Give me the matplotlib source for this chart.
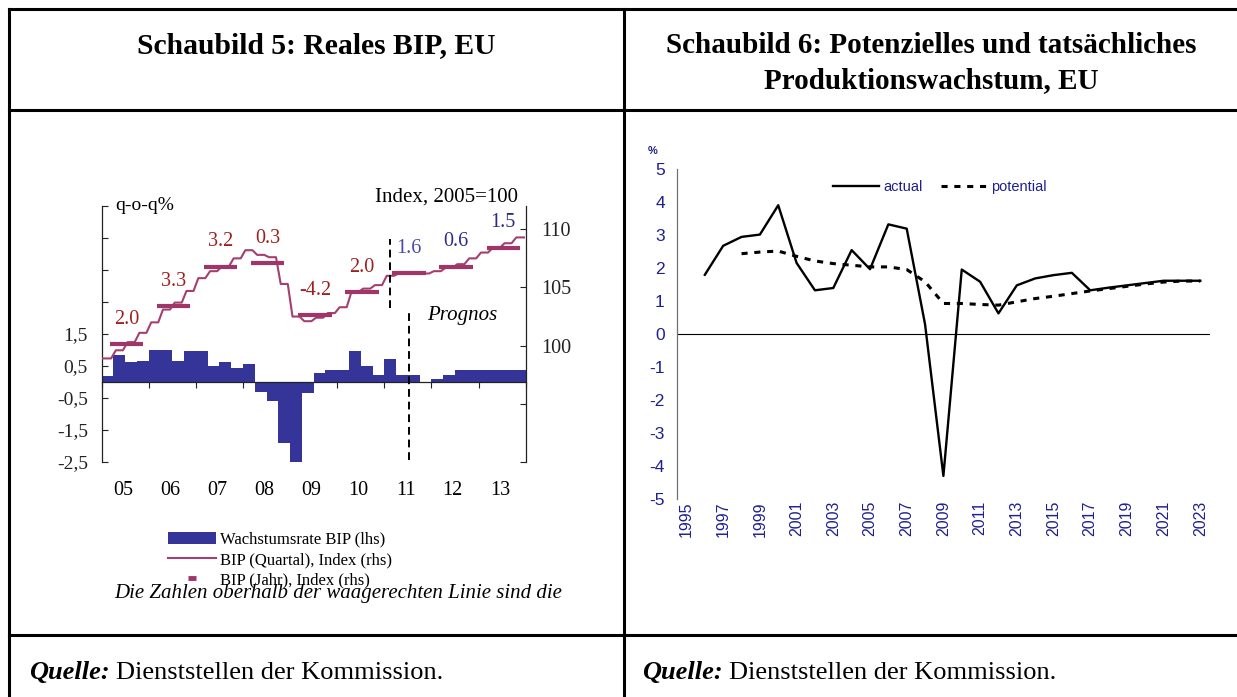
import matplotlib
matplotlib.use('Agg')
import matplotlib.pyplot as plt
import numpy as np
from matplotlib.lines import Line2D
from matplotlib.patches import Patch
from matplotlib.transforms import blended_transform_factory

W, H, DPI = 1237, 697, 100
SERIF = 'Liberation Serif'
SANS = 'Liberation Sans'

# ---------------- data: Schaubild 5 ----------------
year_labels_5 = ['05', '06', '07', '08', '09', '10', '11', '12', '13']
gdp_qoq = [0.2, 0.85, 0.64, 0.67, 1.0, 1.0, 0.67, 0.98, 0.98, 0.51, 0.64, 0.45,
           0.57, -0.3, -0.58, -1.9, -2.58, -0.35, 0.29, 0.39, 0.39, 0.98, 0.51, 0.23,
           0.73, 0.23, 0.23, 0.0, 0.1, 0.23, 0.39, 0.39, 0.39, 0.39, 0.39, 0.39]
gdp_index_q = [98.9, 99.6, 100.3, 101.1, 102.0, 103.1, 103.7, 104.7,
               105.8, 106.4, 106.8, 107.5, 108.2, 107.8, 107.6, 105.3,
               102.5, 102.1, 102.4, 102.8, 103.3, 104.6, 104.9, 105.2,
               106.0, 106.2, 106.2, 106.2, 106.4, 106.7, 107.0, 107.5,
               108.0, 108.4, 108.8, 109.3]
gdp_index_y = [100.1, 103.4, 106.8, 107.1, 102.6, 104.6, 106.2, 106.8, 108.4]
growth_labels = ['2.0', '3.3', '3.2', '0.3', '-4.2', '2.0', '1.6', '0.6', '1.5']
label_colors = ['#9E1F1F'] * 6 + ['#4A4AA8', '#2B2B8C', '#2B2B8C']
forecast_q_index = 24.45   # quarter position of upper dashed separator
forecast_q_bars = 26.05    # quarter position of lower dashed separator

# ---------------- data: Schaubild 6 ----------------
years_6 = list(range(1995, 2024))
actual_years = list(range(1996, 2024))
actual = [1.8, 2.68, 2.95, 3.02, 3.91, 2.16, 1.33, 1.40, 2.55, 1.97, 3.33, 3.20, 0.3,
          -4.3, 1.96, 1.59, 0.63, 1.48, 1.69, 1.79, 1.86, 1.33, 1.41, 1.48, 1.55,
          1.62, 1.62, 1.62]
potential_years = list(range(1998, 2024))
potential = [2.44, 2.49, 2.52, 2.36, 2.22, 2.14, 2.09, 2.04, 2.04, 1.96, 1.59, 0.93,
             0.93, 0.90, 0.88, 0.98, 1.08, 1.15, 1.23, 1.31, 1.38, 1.45, 1.52, 1.58,
             1.61, 1.61]

BAR_BLUE = '#353599'
MAROON = '#A3406F'
NAVY = '#1F1F8F'

fig = plt.figure(figsize=(W / DPI, H / DPI), dpi=DPI)
fig.patch.set_facecolor('white')


def fx(px):
    return px / W


def fy(py):
    return 1 - py / H


# ---------------- table frame ----------------
for (x0, y0, x1, y1) in [(9, 9, W + 5, 9), (9, 109.5, W + 5, 109.5), (9, 634.5, W + 5, 634.5),
                         (9, 9, 9, H + 5), (624, 9, 624, H + 5)]:
    fig.add_artist(Line2D([fx(x0), fx(x1)], [fy(y0), fy(y1)], transform=fig.transFigure,
                          color='black', lw=2.2, solid_capstyle='projecting'))

fig.text(fx(316.5), fy(53), 'Schaubild 5: Reales BIP, EU', ha='center', va='baseline',
         fontsize=21.3, fontweight='bold', family=SERIF)
fig.text(fx(931.7), fy(53), 'Schaubild 6: Potenzielles und tatsächliches', ha='center',
         va='baseline', fontsize=21, fontweight='bold', family=SERIF)
fig.text(fx(931.7), fy(88), 'Produktionswachstum, EU', ha='center', va='baseline',
         fontsize=21, fontweight='bold', family=SERIF)

# ---------------- Schaubild 5 ----------------
ax = fig.add_axes([fx(101.7), fy(462), (525.7 - 101.7) / W, 256 / H])
nq = len(gdp_qoq)
q = np.arange(nq)
ax.bar(q + 0.5, gdp_qoq, width=1.0, color=BAR_BLUE, edgecolor='none', zorder=2)
ax.set_xlim(0, nq)
ax.set_ylim(-2.5, 5.5)
yt = np.arange(-2.5, 5.6, 1.0)
ax.set_yticks(yt)
ax.set_yticklabels([('%.1f' % v).replace('.', ',') if v <= 1.6 else '' for v in yt],
                   family=SERIF, fontsize=14)
ax.tick_params(axis='y', direction='in', length=4, pad=10, width=0.8, colors='#222222')
ax.spines['top'].set_visible(False)
ax.spines['right'].set_visible(False)
ax.spines['bottom'].set_position(('data', 0))
for s in ['left', 'bottom']:
    ax.spines[s].set_linewidth(0.9)
    ax.spines[s].set_color('#222222')
ax.set_xticks(np.arange(0, nq + 1, 4))
ax.set_xticklabels([])
ax.tick_params(axis='x', direction='out', length=4, width=0.8, colors='#222222')
ax.patch.set_alpha(0)

tr = blended_transform_factory(ax.transData, ax.transAxes)
for i, lab in enumerate(year_labels_5):
    ax.text(4 * i + 1.8, -0.112, lab, transform=tr, ha='center', va='center',
            family=SERIF, fontsize=14.5)

ax.vlines(forecast_q_bars, -2.43, 2.17, colors='black', linestyles=(0, (4, 2.5)), lw=1.4, zorder=4)

ax2 = ax.twinx()
ax2.set_ylim(90, 112)
rt = [90, 95, 100, 105, 110]
ax2.set_yticks(rt)
ax2.set_yticklabels(['', '', '100', '105', '110'], family=SERIF, fontsize=14.5)
ax2.tick_params(axis='y', direction='in', length=4, pad=11, width=0.8, colors='#222222')
for s in ['top', 'left', 'bottom']:
    ax2.spines[s].set_visible(False)
ax2.spines['right'].set_linewidth(0.9)
ax2.spines['right'].set_color('#222222')

# quarterly index as staircase with slanted risers
xs = np.ravel(np.column_stack([q + 0.2, q + 0.8]))
xs[0] = 0.0
xs[-1] = nq - 0.15
ys = np.repeat(gdp_index_q, 2)
ax2.plot(xs, ys, color=MAROON, lw=1.5, zorder=3)
yc = np.arange(len(gdp_index_y)) * 4 + 2.1
ax2.hlines(gdp_index_y, yc - 1.42, yc + 1.42, colors='#A0356A', lw=3.0, zorder=4)
for xc, v, lab, col in zip(yc, gdp_index_y, growth_labels, label_colors):
    ax2.annotate(lab, (xc, v), xytext=(0, 18), textcoords='offset points', ha='center',
                 va='center', family=SERIF, fontsize=14.5, color=col)
ax2.vlines(forecast_q_index, 103.2, 109.2, colors='black', linestyles=(0, (4, 2.5)), lw=1.4, zorder=4)

fig.text(fx(462.7), fy(315.7), 'Prognos', ha='center', va='center', family=SERIF,
         style='italic', fontsize=15)
fig.text(fx(115), fy(206), 'q-o-q%', ha='left', va='center', family=SERIF, fontsize=14)
fig.text(fx(518.3), fy(197), 'Index, 2005=100', ha='right', va='center', family=SERIF, fontsize=15)

h1 = Patch(facecolor=BAR_BLUE, edgecolor='none')
h2 = Line2D([], [], color=MAROON, lw=1.5)
h3 = Line2D([], [], color='#A0356A', lw=0, marker='_', markersize=6, markeredgewidth=3.5)
fig.legend([h1, h2, h3], ['Wachstumsrate BIP (lhs)', 'BIP (Quartal), Index (rhs)',
                          'BIP (Jahr), Index (rhs)'],
           loc='center left', bbox_to_anchor=(fx(168), fy(560)), bbox_transform=fig.transFigure,
           frameon=False, prop={'family': SERIF, 'size': 12}, handlelength=2.85,
           handletextpad=0.25, labelspacing=0.25, borderpad=0, borderaxespad=0)
fig.text(fx(114.7), fy(593.3), 'Die Zahlen oberhalb der waagerechten Linie sind die',
         ha='left', va='center', family=SERIF, style='italic', fontsize=15)

# ---------------- Schaubild 6 ----------------
bx = fig.add_axes([fx(677.3), fy(499), (1209.5 - 677.3) / W, (499 - 169.3) / H])
bx.plot(actual_years, actual, color='black', lw=1.7, label='actual', zorder=3)
bx.plot(potential_years, potential, color='black', lw=2.2, linestyle=(0, (2.0, 2.2)),
        label='potential', zorder=2)
bx.axhline(0, color='black', lw=0.8, zorder=1)
bx.set_xlim(years_6[0] - 0.5, years_6[-1] + 0.5)
bx.set_ylim(-5, 5)
bx.set_yticks(range(-5, 6))
bx.set_yticklabels([str(v) for v in range(-5, 6)], family=SANS, fontsize=12.5, color=NAVY)
xt = years_6[::2]
bx.set_xticks(xt)
bx.set_xticklabels([str(y) for y in xt], rotation=90, family=SANS, fontsize=11.5, color=NAVY)
bx.tick_params(axis='both', length=0)
bx.tick_params(axis='y', pad=9)
bx.tick_params(axis='x', pad=1.5)
for s in ['top', 'right', 'bottom']:
    bx.spines[s].set_visible(False)
bx.spines['left'].set_color('#707070')
bx.spines['left'].set_linewidth(0.9)
bx.patch.set_alpha(0)
leg = bx.legend(loc='center left', bbox_to_anchor=(fx(832.7), fy(187.3)),
                bbox_transform=fig.transFigure, ncol=2, frameon=False,
                prop={'family': SANS, 'size': 10.5}, handlelength=3.2, handletextpad=0.25,
                columnspacing=1.25, borderpad=0, borderaxespad=0)
for t in leg.get_texts():
    t.set_color(NAVY)
fig.text(fx(653), fy(151), '%', ha='center', va='center', family=SANS, fontsize=8,
         fontweight='bold', color=NAVY)

# ---------------- Quelle rows ----------------
renderer = fig.canvas.get_renderer()
for x0 in (29, 642):
    t1 = fig.text(fx(x0), fy(679), 'Quelle:', ha='left', va='baseline', family=SERIF,
                  fontsize=19, fontweight='bold', style='italic')
    bb = t1.get_window_extent(renderer)
    fig.text(bb.x1 / W + fx(6), fy(679), 'Dienststellen der Kommission.', ha='left',
             va='baseline', family=SERIF, fontsize=19)

fig.savefig('out.png', dpi=DPI)
